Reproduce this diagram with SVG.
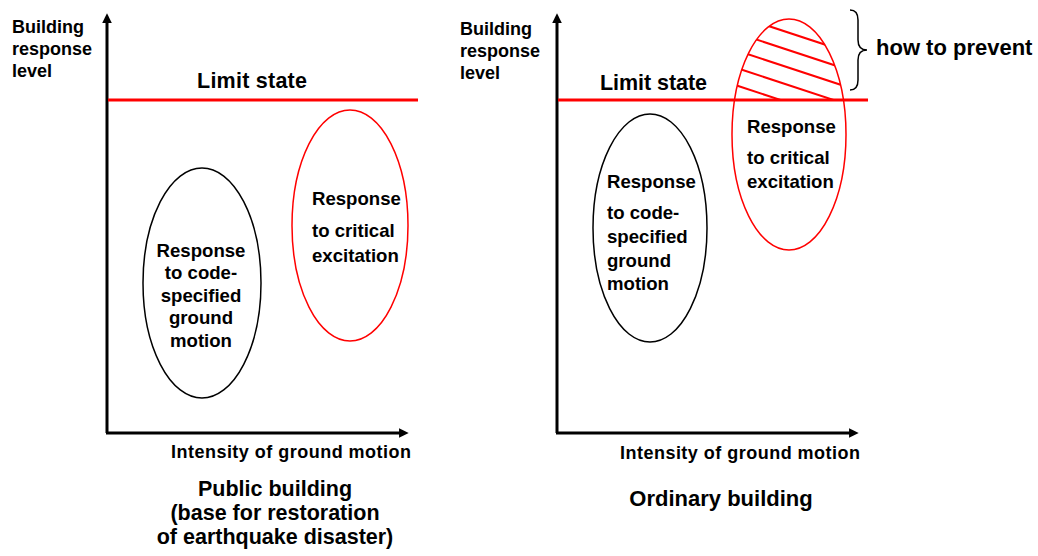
<svg xmlns="http://www.w3.org/2000/svg" width="1038" height="556" viewBox="0 0 1038 556">
<style>
text{font-family:"Liberation Sans",Arial,sans-serif;font-weight:bold;fill:#000}
.t18{font-size:18px}
.t19{font-size:18.6px}
.t21{font-size:21.5px}
.t22{font-size:22px}
.mid{text-anchor:middle}
.axis{stroke:#000;stroke-width:3;fill:none}
.limit{stroke:#FF0000;stroke-width:3;fill:none}
.blk{fill:none;stroke:#000;stroke-width:1.5}
.red{fill:none;stroke:#FF0000;stroke-width:1.5}
.hatch{stroke:#FF0000;stroke-width:2}
</style>
<defs>
<marker id="arr" viewBox="0 0 10 10" refX="2" refY="5" markerWidth="3.2" markerHeight="3.2" orient="auto" markerUnits="strokeWidth">
<path d="M0,0 L10,5 L0,10 z" fill="#000"/>
</marker>
<clipPath id="clipEll"><ellipse cx="789" cy="134.5" rx="57" ry="115.5"/></clipPath>
<clipPath id="clipTop"><rect x="700" y="0" width="200" height="100"/></clipPath>
</defs>
<rect width="1038" height="556" fill="#fff"/>

<g id="connectors">
<path class="axis" d="M107,433 V21" marker-end="url(#arr)"/>
<path class="axis" d="M106,433 H401" marker-end="url(#arr)"/>
<path class="axis" d="M557,433 V21" marker-end="url(#arr)"/>
<path class="axis" d="M556,433 H851" marker-end="url(#arr)"/>
<path class="limit" d="M108,100 H418"/>
<path class="limit" d="M558,100 H868"/>
</g>

<g id="left-ylabel">
<text class="t18" x="12" y="33">Building</text>
<text class="t18" x="12" y="55">response</text>
<text class="t18" x="12" y="77">level</text>
</g>
<g id="left-limit-label"><text class="t21" x="197" y="88" textLength="110">Limit state</text></g>
<g id="left-code-ellipse">
<ellipse class="blk" cx="202" cy="283" rx="59" ry="115"/>
<text class="t19 mid" x="201" y="257">Response</text>
<text class="t19 mid" x="201" y="279">to code-</text>
<text class="t19 mid" x="201" y="302">specified</text>
<text class="t19 mid" x="201" y="324">ground</text>
<text class="t19 mid" x="201" y="347">motion</text>
</g>
<g id="left-critical-ellipse">
<ellipse class="red" cx="350" cy="225.5" rx="58" ry="115.5"/>
<text class="t19" x="312" y="205">Response</text>
<text class="t19" x="312" y="237">to critical</text>
<text class="t19" x="312" y="262">excitation</text>
</g>
<g id="left-xlabel"><text class="t18" x="171" y="458" textLength="240">Intensity of ground motion</text></g>
<g id="left-title">
<text class="t21 mid" x="275" y="496">Public building</text>
<text class="t21 mid" x="275" y="520">(base for restoration</text>
<text class="t21 mid" x="275" y="544">of earthquake disaster)</text>
</g>

<g id="right-ylabel">
<text class="t18" x="460" y="35">Building</text>
<text class="t18" x="460" y="57">response</text>
<text class="t18" x="460" y="79">level</text>
</g>
<g id="right-limit-label"><text class="t21" x="600" y="90" textLength="107">Limit state</text></g>
<g id="right-code-ellipse">
<ellipse class="blk" cx="650" cy="228" rx="57" ry="114"/>
<text class="t19" x="607" y="188">Response</text>
<text class="t19" x="607" y="219">to code-</text>
<text class="t19" x="607" y="243">specified</text>
<text class="t19" x="607" y="267">ground</text>
<text class="t19" x="607" y="290">motion</text>
</g>
<g id="right-critical-ellipse">
<g clip-path="url(#clipTop)"><g clip-path="url(#clipEll)">
<line class="hatch" x1="720" y1="10" x2="870" y2="59.5"/>
<line class="hatch" x1="720" y1="27.5" x2="870" y2="77"/>
<line class="hatch" x1="720" y1="45" x2="870" y2="94.5"/>
<line class="hatch" x1="720" y1="62.5" x2="870" y2="112"/>
<line class="hatch" x1="720" y1="80" x2="870" y2="129.5"/>
</g></g>
<ellipse class="red" cx="789" cy="134.5" rx="57" ry="115.5"/>
<text class="t19" x="747" y="133">Response</text>
<text class="t19" x="747" y="164">to critical</text>
<text class="t19" x="747" y="188">excitation</text>
</g>
<g id="right-brace">
<path class="blk" d="M850,10 Q858,10 858,20 V40 Q858,50 867,50 Q858,50 858,60 V80 Q858,90 850,90"/>
<text class="t22" x="876" y="55">how to prevent</text>
</g>
<g id="right-xlabel"><text class="t18" x="620" y="459" textLength="240">Intensity of ground motion</text></g>
<g id="right-title"><text class="t22 mid" x="721" y="506">Ordinary building</text></g>
</svg>
